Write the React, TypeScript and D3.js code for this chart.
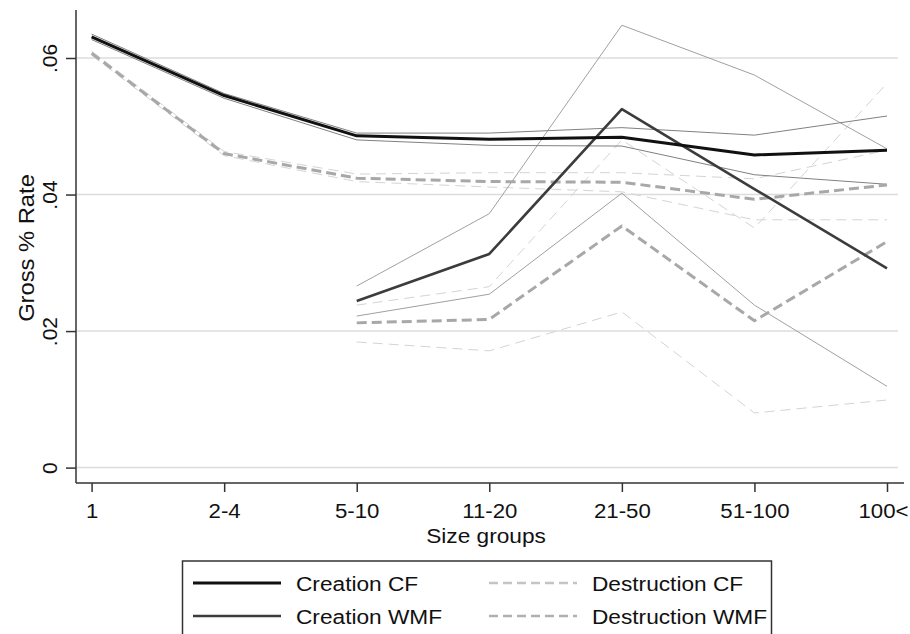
import React, { useEffect, useRef } from 'react';
import * as d3 from 'd3';

// size groups on the x axis
const categories = ['1', '2-4', '5-10', '11-20', '21-50', '51-100', '100<'];
const yTicks = [0, 0.02, 0.04, 0.06];
const yTickLabels = ['0', '.02', '.04', '.06'];

// main series (null = no value for that group)
const creationCF = [0.0631, 0.0545, 0.0486, 0.0481, 0.0484, 0.0458, 0.0465];
const creationWMF = [null, null, 0.0244, 0.0313, 0.0525, 0.0408, 0.0292];
const destructionCF = [0.0607, 0.0460, 0.0424, 0.0419, 0.0418, 0.0393, 0.0414];
const destructionWMF = [null, null, 0.0212, 0.0217, 0.0354, 0.0215, 0.0331];

// confidence bounds
const creationCFHi = [0.0635, 0.0548, 0.0490, 0.0490, 0.0498, 0.0487, 0.0515];
const creationCFLo = [0.0627, 0.0541, 0.0480, 0.0472, 0.0471, 0.0429, 0.0415];
const creationWMFHi = [null, null, 0.0266, 0.0372, 0.0648, 0.0575, 0.0467];
const creationWMFLo = [null, null, 0.0222, 0.0254, 0.0402, 0.0238, 0.0119];
const destructionCFHi = [0.0610, 0.0463, 0.0430, 0.0432, 0.0432, 0.0423, 0.0465];
const destructionCFLo = [0.0604, 0.0457, 0.0419, 0.0411, 0.0404, 0.0363, 0.0363];
const destructionWMFHi = [null, null, 0.0238, 0.0265, 0.0480, 0.0351, 0.0563];
const destructionWMFLo = [null, null, 0.0184, 0.0171, 0.0228, 0.0080, 0.0099];

const legendLabels = ['Creation CF', 'Creation WMF', 'Destruction CF', 'Destruction WMF'];

const FONT = '"Liberation Sans", Arial, sans-serif';

export default function App() {
    const ref = useRef<SVGSVGElement>(null);

    useEffect(() => {
        const svg = d3.select(ref.current);
        svg.selectAll('*').remove();

        const x = d3.scalePoint<string>().domain(categories).range([91.6, 887]);
        const y = d3.scaleLinear().domain([0, 0.06]).range([467.6, 58]);

        // gridlines
        svg.append('g')
            .selectAll('line')
            .data(yTicks)
            .enter()
            .append('line')
            .attr('x1', 77)
            .attr('x2', 898)
            .attr('y1', (d) => y(d))
            .attr('y2', (d) => y(d))
            .attr('stroke', '#dcdcdc')
            .attr('stroke-width', 1.5);

        const line = d3.line<number | null>()
            .defined((d) => d !== null)
            .x((d, i) => x(categories[i]) as number)
            .y((d) => y(d as number));

        const draw = (vals: (number | null)[], color: string, width: number, dash?: string) => {
            svg.append('path')
                .attr('d', line(vals) as string)
                .attr('fill', 'none')
                .attr('stroke', color)
                .attr('stroke-width', width)
                .attr('stroke-linejoin', 'round')
                .attr('stroke-dasharray', dash || null);
        };

        // bounds
        draw(destructionWMFHi, '#d4d4d4', 1, '10,6');
        draw(destructionWMFLo, '#d4d4d4', 1, '10,6');
        draw(destructionCFHi, '#d4d4d4', 1, '10,6');
        draw(destructionCFLo, '#d4d4d4', 1, '10,6');
        draw(creationWMFHi, '#a0a0a0', 1);
        draw(creationWMFLo, '#a0a0a0', 1);
        draw(creationCFHi, '#808080', 1);
        draw(creationCFLo, '#808080', 1);

        // main lines
        draw(destructionWMF, '#a8a8a8', 3, '10,5');
        draw(destructionCF, '#a8a8a8', 3, '10,5');
        draw(creationWMF, '#3c3c3c', 2.6);
        draw(creationCF, '#111', 3);

        // axes
        const yAxis = svg.append('g').attr('transform', 'translate(76,0)');
        yAxis.call(d3.axisLeft(y).tickValues(yTicks).tickSize(10).tickFormat((d, i) => yTickLabels[i]));
        yAxis.select('.domain').attr('d', 'M0,10V483').attr('stroke', '#333').attr('stroke-width', 1.5);
        yAxis.selectAll('.tick line').attr('stroke', '#333').attr('stroke-width', 1.5);
        yAxis.selectAll('.tick text')
            .attr('x', null)
            .attr('dy', null)
            .attr('transform', 'translate(-19,0) rotate(-90)')
            .attr('text-anchor', 'middle')
            .attr('font-family', FONT)
            .attr('font-size', 21)
            .attr('fill', '#111');

        const xAxis = svg.append('g').attr('transform', 'translate(0,483)');
        xAxis.call(d3.axisBottom(x).tickSize(9).tickPadding(10));
        xAxis.select('.domain').attr('d', 'M76,0H904').attr('stroke', '#333').attr('stroke-width', 1.5);
        xAxis.selectAll('.tick line').attr('stroke', '#333').attr('stroke-width', 1.5);
        xAxis.selectAll('.tick text')
            .attr('y', null)
            .attr('dy', null)
            .attr('transform', (d) => (d === '100<' ? 'translate(-4,35)' : 'translate(0,35)') + ' scale(1.06,1)')
            .attr('font-family', FONT)
            .attr('font-size', 21)
            .attr('fill', '#111');

        // axis titles
        svg.append('text')
            .attr('transform', 'translate(486,543) scale(1.08,1)')
            .attr('text-anchor', 'middle')
            .attr('font-family', FONT)
            .attr('font-size', 21)
            .attr('fill', '#111')
            .text('Size groups');

        svg.append('text')
            .attr('transform', 'translate(34,248) rotate(-90) scale(1.08,1)')
            .attr('text-anchor', 'middle')
            .attr('font-family', FONT)
            .attr('font-size', 22)
            .attr('fill', '#111')
            .text('Gross % Rate');

        // legend
        const lg = svg.append('g');
        lg.append('rect')
            .attr('x', 182.5)
            .attr('y', 561)
            .attr('width', 589)
            .attr('height', 90)
            .attr('fill', 'white')
            .attr('stroke', '#333')
            .attr('stroke-width', 1.5);

        const items = [
            { label: legendLabels[0], color: '#111', width: 3, dash: null, col: 0, row: 0 },
            { label: legendLabels[1], color: '#3c3c3c', width: 2.6, dash: null, col: 0, row: 1 },
            { label: legendLabels[2], color: '#c4c4c4', width: 2.6, dash: '9,5', col: 1, row: 0 },
            { label: legendLabels[3], color: '#b0b0b0', width: 2.6, dash: '9,5', col: 1, row: 1 },
        ];
        const colX = [193, 489];
        const rowY = [583, 616];
        items.forEach((it) => {
            lg.append('line')
                .attr('x1', colX[it.col])
                .attr('x2', colX[it.col] + 88)
                .attr('y1', rowY[it.row])
                .attr('y2', rowY[it.row])
                .attr('stroke', it.color)
                .attr('stroke-width', it.width)
                .attr('stroke-dasharray', it.dash);
            lg.append('text')
                .attr('transform', 'translate(' + (colX[it.col] + 103) + ',' + (rowY[it.row] + 8) + ') scale(1.08,1)')
                .attr('font-family', FONT)
                .attr('font-size', 21)
                .attr('fill', '#111')
                .text(it.label);
        });
    }, []);

    return (
        <svg ref={ref} width={910} height={634}
             style={{ position: 'absolute', left: 0, top: 0, background: 'white' }} />
    );
}
